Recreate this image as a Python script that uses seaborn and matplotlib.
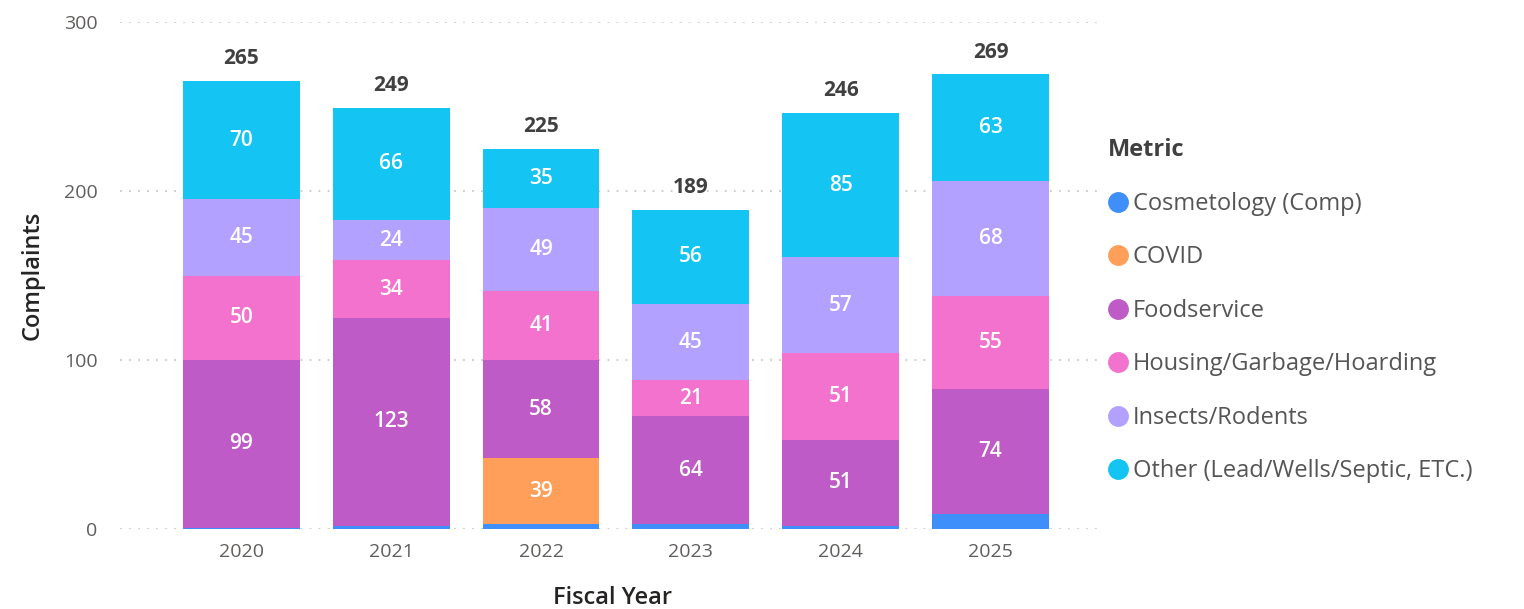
import seaborn as sns
import matplotlib.pyplot as plt
import pandas as pd
import numpy as np
from matplotlib.lines import Line2D

sns.set_style("white")
plt.rcParams['font.family'] = ['Open Sans', 'DejaVu Sans']

years = ["2020", "2021", "2022", "2023", "2024", "2025"]
metrics = ["Cosmetology (Comp)", "COVID", "Foodservice",
           "Housing/Garbage/Hoarding", "Insects/Rodents",
           "Other (Lead/Wells/Septic, ETC.)"]
cosmetology = [1, 2, 3, 3, 2, 9]
covid = [0, 0, 39, 0, 0, 0]
foodservice = [99, 123, 58, 64, 51, 74]
housing = [50, 34, 41, 21, 51, 55]
insects = [45, 24, 49, 45, 57, 68]
other = [70, 66, 35, 56, 85, 63]
colors = ["#3F8FFA", "#FF9F5A", "#BE5BC6", "#F272CE", "#B3A1FF", "#14C5F3"]

df = pd.DataFrame({"Fiscal Year": years, metrics[0]: cosmetology, metrics[1]: covid,
                   metrics[2]: foodservice, metrics[3]: housing,
                   metrics[4]: insects, metrics[5]: other})
cum = df[metrics].cumsum(axis=1)

fig = plt.figure(figsize=(15.24, 6.09), dpi=100)
ax = fig.add_axes([0.0787, 0.131, 0.646, 0.833])

# draw cumulative bars from the top segment down so they stack
for m, c in reversed(list(zip(metrics, colors))):
    sns.barplot(x=df["Fiscal Year"], y=cum[m], color=c, width=0.78,
                saturation=1, ax=ax, edgecolor="none")

# segment labels
for i in range(len(years)):
    for m in metrics:
        v = df.loc[i, m]
        if v >= 15:
            mid = cum.loc[i, m] - v / 2
            ax.text(i, mid, str(v), ha="center", va="center", color="white",
                    fontsize=15, fontweight="semibold")
    tot = cum.loc[i, metrics[-1]]
    ax.text(i, tot + 7, str(tot), ha="center", va="bottom", color="#404040",
            fontsize=15, fontweight="bold")

ax.set_ylim(0, 300)
ax.set_xlim(-0.81, 5.76)
ax.set_yticks([0, 100, 200, 300])
ax.yaxis.grid(True, linestyle=(0, (1, 4)), color="#C8C8C8", linewidth=1.3)
ax.set_axisbelow(True)
sns.despine(ax=ax, left=True, bottom=True)
ax.tick_params(axis="both", length=0, labelsize=14, labelcolor="#605E5C")
ax.tick_params(axis="y", pad=16)
ax.tick_params(axis="x", pad=10)
ax.set_xlabel("Fiscal Year", fontsize=17, color="#252423", fontweight="semibold", labelpad=18)
ax.set_ylabel("Complaints", fontsize=17, color="#252423", fontweight="semibold", labelpad=14)

handles = [Line2D([0], [0], marker="o", linestyle="none", markersize=14,
                  markerfacecolor=c, markeredgecolor=c) for c in colors]
leg = fig.legend(handles, metrics, title="Metric", loc="upper left",
                 bbox_to_anchor=(0.716, 0.80), frameon=False, fontsize=17,
                 title_fontsize=17, handlelength=0.9, handletextpad=0.15,
                 labelspacing=1.25, alignment="left", labelcolor="#555555",
                 borderpad=0.2)
leg.get_title().set_fontweight("bold")
leg.get_title().set_color("#404040")
leg._legend_handle_box.sep = 3

fig.savefig("out.png", dpi=100)
